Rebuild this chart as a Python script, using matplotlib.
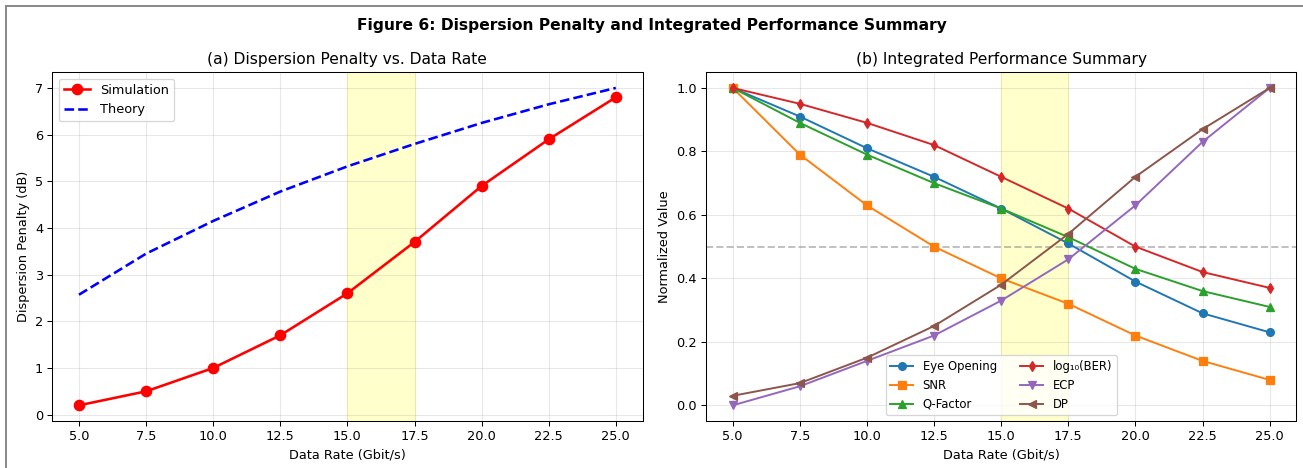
import matplotlib
matplotlib.use("Agg")
import matplotlib.pyplot as plt
from matplotlib.patches import Rectangle

# data rates (Gbit/s)
rate = [5.0, 7.5, 10.0, 12.5, 15.0, 17.5, 20.0, 22.5, 25.0]

# (a) dispersion penalty (dB)
sim_dp = [0.2, 0.5, 1.0, 1.7, 2.6, 3.7, 4.9, 5.9, 6.8]
theory_dp = [2.57, 3.45, 4.15, 4.78, 5.32, 5.8, 6.25, 6.65, 7.0]

# (b) normalized metrics
eye_opening = [1.0, 0.91, 0.81, 0.72, 0.62, 0.51, 0.39, 0.29, 0.23]
snr = [1.0, 0.79, 0.63, 0.50, 0.40, 0.32, 0.22, 0.14, 0.08]
q_factor = [1.0, 0.89, 0.79, 0.70, 0.62, 0.53, 0.43, 0.36, 0.31]
log_ber = [1.0, 0.95, 0.89, 0.82, 0.72, 0.62, 0.50, 0.42, 0.37]
ecp = [0.0, 0.06, 0.14, 0.22, 0.33, 0.46, 0.63, 0.83, 1.0]
dp = [0.03, 0.07, 0.15, 0.25, 0.38, 0.54, 0.72, 0.87, 1.0]

W, H = 1303, 468
DPI = W / 14
fig, (ax1, ax2) = plt.subplots(1, 2, figsize=(14, H / DPI), dpi=DPI)
fig.subplots_adjust(left=0.040, right=0.995, top=0.846, bottom=0.100, wspace=0.107)

# frame around the figure
fig.patches.append(Rectangle((6 / W, -0.05), 1.1, (H - 6) / H + 0.05,
                             transform=fig.transFigure, fill=False,
                             edgecolor="#888888", linewidth=1.5))

fig.suptitle("Figure 6: Dispersion Penalty and Integrated Performance Summary",
             fontsize=12, fontweight="bold", y=0.962)

# panel a
ax1.axvspan(15, 17.5, color="yellow", alpha=0.2)
ax1.plot(rate, sim_dp, "o-", color="red", linewidth=2, markersize=8, label="Simulation")
ax1.plot(rate, theory_dp, "--", color="blue", linewidth=2, label="Theory")
ax1.set_title("(a) Dispersion Penalty vs. Data Rate", fontsize=12)
ax1.set_xlabel("Data Rate (Gbit/s)")
ax1.set_ylabel("Dispersion Penalty (dB)")
ax1.grid(True, alpha=0.3)
ax1.legend(loc="upper left")

# panel b
ax2.axvspan(15, 17.5, color="yellow", alpha=0.2)
ax2.axhline(0.5, color="gray", linestyle="--", alpha=0.5)
ax2.plot(rate, eye_opening, "o-", label="Eye Opening")
ax2.plot(rate, snr, "s-", label="SNR")
ax2.plot(rate, q_factor, "^-", label="Q-Factor")
ax2.plot(rate, log_ber, "d-", label="log\u2081\u2080(BER)")
ax2.plot(rate, ecp, "v-", label="ECP")
ax2.plot(rate, dp, "<-", label="DP")
ax2.set_title("(b) Integrated Performance Summary", fontsize=12)
ax2.set_xlabel("Data Rate (Gbit/s)")
ax2.set_ylabel("Normalized Value")
ax2.grid(True, alpha=0.3)
ax2.legend(loc="lower center", ncol=2, fontsize=9)

fig.savefig("out.png", dpi=DPI)
